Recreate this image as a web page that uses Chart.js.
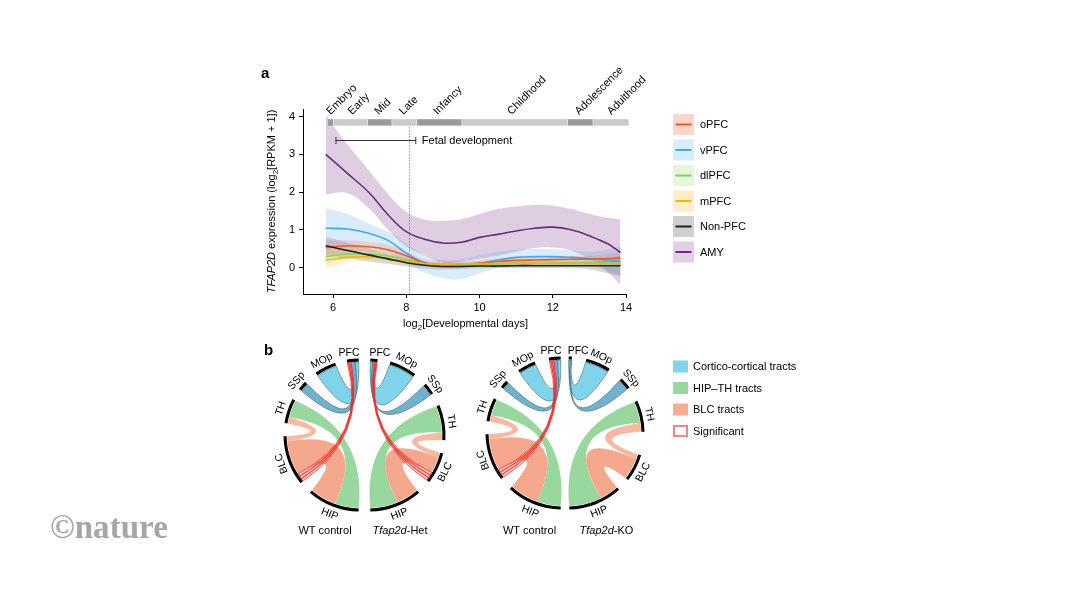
<!DOCTYPE html>
<html>
<head>
<meta charset="utf-8">
<script src="https://cdn.jsdelivr.net/npm/chart.js@4.4.0/dist/chart.umd.min.js"></script>
<style>
body { margin: 0; background: #fff; }
#wrap { position: relative; width: 1066px; height: 600px; overflow: hidden; background: #fff; }
canvas { position: absolute; }
</style>
</head>
<body>
<div id="wrap">
  <canvas id="expr" width="1066" height="600" style="left:0;top:0"></canvas>
  <canvas id="wtA" width="200" height="200" style="left:260px;top:335px"></canvas>
  <canvas id="het" width="200" height="200" style="left:269px;top:335px"></canvas>
  <canvas id="wtB" width="200" height="200" style="left:462px;top:333px"></canvas>
  <canvas id="ko" width="200" height="200" style="left:468px;top:333px"></canvas>
</div>
<script>
var FAMILY = '"Liberation Sans", Arial, Helvetica, sans-serif';

// ---- panel a data ----
var days = [5.8, 6.4, 7.0, 7.5, 8.0, 8.5, 9.0, 9.5, 10.0, 10.5, 11.0, 11.5, 12.0, 12.5, 13.0, 13.5, 13.85];

var oPFC   = [0.53, 0.57, 0.55, 0.47, 0.31, 0.12, 0.07, 0.08, 0.12, 0.16, 0.19, 0.20, 0.21, 0.22, 0.22, 0.24, 0.25];
var oPFCHi = [0.72, 0.72, 0.68, 0.60, 0.42, 0.22, 0.16, 0.17, 0.20, 0.24, 0.27, 0.28, 0.29, 0.30, 0.31, 0.36, 0.42];
var oPFCLo = [0.33, 0.40, 0.42, 0.35, 0.20, 0.03, -0.02, -0.01, 0.04, 0.08, 0.11, 0.12, 0.13, 0.13, 0.12, 0.10, 0.06];

var vPFC   = [1.04, 1.02, 0.90, 0.72, 0.38, 0.13, 0.04, 0.04, 0.11, 0.20, 0.27, 0.29, 0.29, 0.27, 0.24, 0.20, 0.16];
var vPFCHi = [1.57, 1.42, 1.15, 0.95, 0.64, 0.32, 0.20, 0.22, 0.33, 0.42, 0.47, 0.49, 0.49, 0.45, 0.42, 0.48, 0.56];
var vPFCLo = [0.56, 0.56, 0.50, 0.40, 0.11, -0.13, -0.28, -0.30, -0.15, -0.02, 0.04, 0.07, 0.06, 0.04, 0.02, -0.08, -0.19];

var dlPFC   = [0.29, 0.36, 0.36, 0.31, 0.20, 0.10, 0.07, 0.07, 0.08, 0.10, 0.11, 0.12, 0.12, 0.13, 0.13, 0.12, 0.11];
var dlPFCHi = [0.48, 0.48, 0.47, 0.42, 0.30, 0.17, 0.13, 0.13, 0.14, 0.16, 0.17, 0.18, 0.18, 0.19, 0.20, 0.22, 0.25];
var dlPFCLo = [0.10, 0.24, 0.26, 0.20, 0.10, 0.03, 0.00, 0.01, 0.02, 0.04, 0.05, 0.06, 0.06, 0.06, 0.05, 0.02, -0.03];

var mPFC   = [0.20, 0.27, 0.28, 0.24, 0.16, 0.10, 0.09, 0.10, 0.10, 0.11, 0.11, 0.11, 0.11, 0.11, 0.11, 0.10, 0.10];
var mPFCHi = [0.38, 0.40, 0.38, 0.33, 0.24, 0.16, 0.15, 0.15, 0.15, 0.16, 0.16, 0.16, 0.16, 0.16, 0.17, 0.18, 0.20];
var mPFCLo = [-0.05, 0.14, 0.18, 0.15, 0.08, 0.04, 0.03, 0.04, 0.05, 0.06, 0.06, 0.06, 0.06, 0.06, 0.05, 0.02, -0.02];

var nonPFC   = [0.58, 0.45, 0.33, 0.23, 0.13, 0.06, 0.03, 0.03, 0.04, 0.04, 0.05, 0.05, 0.05, 0.05, 0.05, 0.05, 0.05];
var nonPFCHi = [0.82, 0.65, 0.50, 0.36, 0.24, 0.14, 0.10, 0.10, 0.10, 0.10, 0.11, 0.11, 0.11, 0.12, 0.14, 0.22, 0.32];
var nonPFCLo = [0.32, 0.25, 0.16, 0.10, 0.03, -0.03, -0.05, -0.04, -0.02, -0.01, -0.01, -0.01, -0.01, -0.02, -0.05, -0.15, -0.22];

var amy   = [3.00, 2.49, 1.97, 1.40, 0.95, 0.75, 0.65, 0.67, 0.80, 0.88, 0.97, 1.04, 1.07, 1.00, 0.84, 0.63, 0.40];
var amyHi = [4.05, 3.25, 2.55, 1.95, 1.48, 1.27, 1.24, 1.28, 1.42, 1.55, 1.62, 1.66, 1.64, 1.55, 1.42, 1.32, 1.28];
var amyLo = [1.94, 1.97, 1.55, 1.00, 0.56, 0.32, 0.13, 0.16, 0.24, 0.32, 0.42, 0.52, 0.53, 0.45, 0.22, -0.12, -0.46];

var xTicks = [6, 8, 10, 12, 14];
var yTicks = [0, 1, 2, 3, 4];

var stages = ['Embryo', 'Early', 'Mid', 'Late', 'Infancy', 'Childhood', 'Adolescence', 'Adulthood'];
var stageEdges = [5.86, 6.02, 6.94, 7.61, 8.28, 9.52, 12.40, 13.10, 14.07];
var stageLabelAt = [5.93, 6.52, 7.25, 7.92, 8.85, 10.87, 12.72, 13.60];
var fetalRange = [6.08, 8.26];
var birthDay = 8.07;

var regions = [
    { name: 'oPFC', line: '#f15a24', band: 'rgba(245,110,80,0.22)', swatch: '#fdd5ca', mean: oPFC, hi: oPFCHi, lo: oPFCLo, order: 4 },
    { name: 'vPFC', line: '#3fa9ef', band: 'rgba(80,170,240,0.22)', swatch: '#d8eefc', mean: vPFC, hi: vPFCHi, lo: vPFCLo, order: 5 },
    { name: 'dlPFC', line: '#86d35a', band: 'rgba(140,210,100,0.22)', swatch: '#e6f6dd', mean: dlPFC, hi: dlPFCHi, lo: dlPFCLo, order: 3 },
    { name: 'mPFC', line: '#f7b500', band: 'rgba(250,200,60,0.22)', swatch: '#fdeec9', mean: mPFC, hi: mPFCHi, lo: mPFCLo, order: 2 },
    { name: 'Non-PFC', line: '#1e1e1e', band: 'rgba(60,60,60,0.2)', swatch: '#d0d0d0', mean: nonPFC, hi: nonPFCHi, lo: nonPFCLo, order: 1 },
    { name: 'AMY', line: '#6a2c7e', band: 'rgba(128,60,140,0.25)', swatch: '#e3d0e6', mean: amy, hi: amyHi, lo: amyLo, order: 6 }
];

// ---- panel b data (arc extents in degrees, clockwise from 12 o'clock) ----
var wtA = [['PFC', -10, -1], ['MOp', -35.5, -19], ['SSp', -53, -46], ['TH', -81, -62], ['BLC', -129, -91], ['HIP', -179, -139]];
var wtARibbons = [
    ['TH', -76, -62, 'HIP', -179, -160, 'hipth'],
    ['BLC', -122, -95, 'HIP', -160, -139, 'blc'],
    ['TH', -81, -76, 'BLC', -95, -91, 'blcthin'],
    ['MOp', -35.5, -19, 'PFC', -4, -1, 'cc'],
    ['SSp', -53, -46, 'PFC', -7, -4, 'cc2'],
    ['PFC', -10, -7, 'BLC', -129, -122, 'sig']
];

var het = [['PFC', 1, 6.5], ['MOp', 16.3, 37.2], ['SSp', 48, 57], ['TH', 67, 94], ['BLC', 104, 128], ['HIP', 139, 179]];
var hetRibbons = [
    ['TH', 67, 88, 'HIP', 157, 179, 'hipth'],
    ['BLC', 108, 121, 'HIP', 139, 157, 'blc'],
    ['TH', 88, 94, 'BLC', 104, 108, 'blcthin'],
    ['MOp', 16.3, 37.2, 'PFC', 1, 2.8, 'cc'],
    ['SSp', 48, 57, 'PFC', 2.8, 4.3, 'cc2'],
    ['PFC', 4.3, 6.5, 'BLC', 121, 128, 'sig']
];

var wtB = [['PFC', -10, -1], ['MOp', -35, -21], ['SSp', -53, -47], ['TH', -81, -63], ['BLC', -127, -91], ['HIP', -179, -137]];
var wtBRibbons = [
    ['TH', -76, -63, 'HIP', -179, -160, 'hipth'],
    ['BLC', -120, -95, 'HIP', -160, -137, 'blc'],
    ['TH', -81, -76, 'BLC', -95, -91, 'blcthin'],
    ['MOp', -35, -21, 'PFC', -4, -1, 'cc'],
    ['SSp', -53, -47, 'PFC', -6.5, -4, 'cc2'],
    ['PFC', -10, -6.5, 'BLC', -127, -120, 'sig']
];

var ko = [['PFC', 0.5, 3], ['MOp', 14, 33], ['SSp', 44.5, 53.5], ['TH', 65, 89], ['BLC', 107, 128], ['HIP', 138, 179]];
var koRibbons = [
    ['TH', 65, 82, 'HIP', 153, 179, 'hipth'],
    ['BLC', 111, 128, 'HIP', 138, 153, 'blc'],
    ['TH', 82, 89, 'BLC', 107, 111, 'blcthin'],
    ['MOp', 14, 33, 'PFC', 0.5, 1.8, 'cc'],
    ['SSp', 44.5, 53.5, 'PFC', 1.8, 3, 'cc2']
];

var tractLegend = ['Cortico-cortical tracts', 'HIP\u2013TH tracts', 'BLC tracts', 'Significant'];

Chart.defaults.font.family = FAMILY;
Chart.defaults.font.size = 11;
Chart.defaults.color = '#000';

function fontFor(style, size) {
    var s = style === 's' ? Math.round(size * 0.72) : size;
    return (style === 'i' ? 'italic ' : '') + (style === 'b' ? 'bold ' : '') + s + 'px ' + FAMILY;
}

// draws pieces of text centred on x, with italic / subscript parts
function richText(ctx, parts, x, y, size) {
    var w = 0;
    parts.forEach(function (p) { ctx.font = fontFor(p[1], size); w += ctx.measureText(p[0]).width; });
    var cx = x - w / 2;
    ctx.textAlign = 'left';
    ctx.textBaseline = 'middle';
    parts.forEach(function (p) {
        ctx.font = fontFor(p[1], size);
        ctx.fillText(p[0], cx, p[1] === 's' ? y + size * 0.32 : y);
        cx += ctx.measureText(p[0]).width;
    });
}

function pts(arr) {
    return days.map(function (d, i) { return { x: d, y: arr[i] }; });
}

var datasets = [];
regions.forEach(function (r) {
    datasets.push({ data: pts(r.hi), fill: '+1', backgroundColor: r.band, borderWidth: 0, pointRadius: 0, tension: 0.4, order: 20 });
    datasets.push({ data: pts(r.lo), fill: false, borderWidth: 0, pointRadius: 0, tension: 0.4, order: 20 });
});
regions.forEach(function (r) {
    datasets.push({ label: r.name, data: pts(r.mean), fill: false, borderColor: r.line, borderWidth: 1.6, pointRadius: 0, tension: 0.4, order: r.order });
});

var decorPlugin = {
    id: 'decor',
    beforeDatasetsDraw: function (chart) {
        var ctx = chart.ctx, x = chart.scales.x, y = chart.scales.y;
        ctx.save();
        ctx.strokeStyle = '#9a9a9a';
        ctx.lineWidth = 1;
        ctx.setLineDash([1.5, 1.5]);
        ctx.beginPath();
        ctx.moveTo(Math.round(x.getPixelForValue(birthDay)) + 0.5, y.getPixelForValue(3.8));
        ctx.lineTo(Math.round(x.getPixelForValue(birthDay)) + 0.5, chart.chartArea.bottom);
        ctx.stroke();
        ctx.restore();
    },
    afterDraw: function (chart) {
        var ctx = chart.ctx, x = chart.scales.x, y = chart.scales.y;
        ctx.save();

        // stage bar
        var top = y.getPixelForValue(3.93), bot = y.getPixelForValue(3.76);
        for (var i = 0; i < stages.length; i++) {
            var x0 = x.getPixelForValue(stageEdges[i]), x1 = x.getPixelForValue(stageEdges[i + 1]);
            ctx.fillStyle = i % 2 === 0 ? '#9b9b9b' : '#cacaca';
            ctx.fillRect(x0, top, x1 - x0, bot - top);
            if (i > 0) { ctx.fillStyle = '#e4e4e4'; ctx.fillRect(x0 - 0.5, top, 1, bot - top); }
        }
        ctx.fillStyle = '#000';
        ctx.font = '11px ' + FAMILY;
        ctx.textAlign = 'left';
        ctx.textBaseline = 'alphabetic';
        stages.forEach(function (s, i) {
            ctx.save();
            ctx.translate(x.getPixelForValue(stageLabelAt[i]), top - 4);
            ctx.rotate(-Math.PI / 4);
            ctx.fillText(s, 0, 0);
            ctx.restore();
        });

        // fetal development bracket
        var fy = Math.round(y.getPixelForValue(3.38)) + 0.5;
        var fx0 = x.getPixelForValue(fetalRange[0]), fx1 = x.getPixelForValue(fetalRange[1]);
        ctx.strokeStyle = '#333';
        ctx.lineWidth = 1;
        ctx.beginPath();
        ctx.moveTo(fx0, fy); ctx.lineTo(fx1, fy);
        ctx.moveTo(fx0, fy - 3.5); ctx.lineTo(fx0, fy + 3.5);
        ctx.moveTo(fx1, fy - 3.5); ctx.lineTo(fx1, fy + 3.5);
        ctx.stroke();
        ctx.textBaseline = 'middle';
        ctx.fillText('Fetal development', fx1 + 6, fy);

        // axis titles
        richText(ctx, [['log', ''], ['2', 's'], ['[Developmental days]', '']], (chart.chartArea.left + chart.chartArea.right) / 2 + 1, 324, 11);
        ctx.save();
        ctx.translate(272, (chart.chartArea.top + chart.chartArea.bottom) / 2);
        ctx.rotate(-Math.PI / 2);
        richText(ctx, [['TFAP2D', 'i'], [' expression (log', ''], ['2', 's'], ['[RPKM + 1])', '']], 0, 0, 11);
        ctx.restore();

        // panel a legend
        ctx.font = '11px ' + FAMILY;
        ctx.textAlign = 'left';
        ctx.textBaseline = 'middle';
        regions.forEach(function (r, i) {
            var cy = 124.5 + i * 25.5;
            ctx.fillStyle = r.swatch;
            ctx.fillRect(673, cy - 10.5, 21, 21);
            ctx.strokeStyle = r.line;
            ctx.lineWidth = 2;
            ctx.beginPath(); ctx.moveTo(675.5, cy); ctx.lineTo(691.5, cy); ctx.stroke();
            ctx.fillStyle = '#000';
            ctx.fillText(r.name, 700, cy + 0.5);
        });

        // panel b legend
        var sw = ['#7fd3ea', '#98d89e', '#f7ad93', null];
        tractLegend.forEach(function (t, i) {
            var cy = 366.5 + i * 21.5;
            if (sw[i]) {
                ctx.fillStyle = sw[i];
                ctx.fillRect(673, cy - 6, 15, 12);
            } else {
                ctx.strokeStyle = '#f08585';
                ctx.lineWidth = 2;
                ctx.strokeRect(674, cy - 5, 13, 10);
            }
            ctx.fillStyle = '#000';
            ctx.fillText(t, 693, cy + 0.5);
        });

        // condition labels
        richText(ctx, [['WT control', '']], 325, 531, 11);
        richText(ctx, [['Tfap2d', 'i'], ['-Het', '']], 400, 531, 11);
        richText(ctx, [['WT control', '']], 529.5, 531, 11);
        richText(ctx, [['Tfap2d', 'i'], ['-KO', '']], 606.5, 531, 11);

        // panel letters
        ctx.fillStyle = '#000';
        ctx.textAlign = 'left';
        ctx.textBaseline = 'alphabetic';
        ctx.font = 'bold 15px ' + FAMILY;
        ctx.fillText('a', 261, 78);
        ctx.fillText('b', 264, 355);

        // watermark
        ctx.font = 'bold 30px "Liberation Serif", serif';
        var wm = ctx.measureText('\u00a9nature').width;
        ctx.font = 'bold ' + (30 * 118 / wm).toFixed(1) + 'px "Liberation Serif", serif';
        ctx.fillStyle = '#a6a6a6';
        ctx.fillText('\u00a9nature', 50, 538);
        ctx.restore();
    }
};

new Chart(document.getElementById('expr'), {
    type: 'line',
    data: { datasets: datasets },
    options: {
        responsive: false,
        animation: false,
        events: [],
        layout: { padding: { left: 273, right: 440, top: 109, bottom: 276 } },
        plugins: { legend: { display: false }, tooltip: { enabled: false } },
        scales: {
            x: {
                type: 'linear', min: 5.18, max: 14,
                afterBuildTicks: function (s) { s.ticks = xTicks.map(function (v) { return { value: v }; }); },
                afterFit: function (s) { s.height = 30; },
                grid: { drawOnChartArea: false, drawTicks: true, tickLength: 4, color: '#000' },
                border: { display: true, color: '#000', width: 1 },
                ticks: { color: '#000', padding: 3, maxRotation: 0, font: { size: 11 } }
            },
            y: {
                type: 'linear', min: -0.7, max: 4.2,
                afterBuildTicks: function (s) { s.ticks = yTicks.map(function (v) { return { value: v }; }); },
                afterFit: function (s) { s.width = 30; },
                grid: { drawOnChartArea: false, drawTicks: true, tickLength: 4, color: '#000' },
                border: { display: true, color: '#000', width: 1 },
                ticks: { color: '#000', padding: 4, font: { size: 11 } }
            }
        }
    },
    plugins: [decorPlugin]
});

// ---- chord halves ----
function ringData(segs) {
    var list = segs.map(function (s) {
        var a = s[1] < 0 ? s[1] + 360 : s[1], b = s[2] < 0 ? s[2] + 360 : s[2];
        return [a, b, s[0]];
    }).sort(function (p, q) { return p[0] - q[0]; });
    var data = [], colors = [], names = [], pos = 0;
    list.forEach(function (s) {
        if (s[0] > pos) { data.push(s[0] - pos); colors.push('rgba(0,0,0,0)'); names.push(''); }
        data.push(s[1] - s[0]); colors.push('#000'); names.push(s[2]);
        pos = s[1];
    });
    if (pos < 360) { data.push(360 - pos); colors.push('rgba(0,0,0,0)'); names.push(''); }
    return { data: data, colors: colors, names: names };
}

var ribbonStyle = {
    hipth: { rank: 0, fill: '#98d89e' },
    blc: { rank: 1, fill: '#f6a88f' },
    blcthin: { rank: 2, fill: 'rgba(246,160,130,0.75)' },
    cc: { rank: 3, fill: '#7fd3ea', stroke: 'rgba(40,60,70,0.75)' },
    cc2: { rank: 3, fill: '#6db3cf', stroke: 'rgba(40,60,70,0.75)' },
    sig: { rank: 4, fill: 'rgba(245,85,75,0.35)', stroke: 'rgba(235,45,40,0.9)' }
};

// one edge of a link: the dip below its chord grows with the chord length,
// but never much past half the way to the centre
function linkEdge(ctx, cx, cy, r, from, to) {
    var x0 = cx + r * Math.cos(from), y0 = cy + r * Math.sin(from);
    var x2 = cx + r * Math.cos(to), y2 = cy + r * Math.sin(to);
    var mx = (x0 + x2) / 2, my = (y0 + y2) / 2;
    var chord = Math.hypot(x2 - x0, y2 - y0);
    var dm = Math.hypot(mx - cx, my - cy);
    var ux, uy;
    if (dm > 1e-6) { ux = (mx - cx) / dm; uy = (my - cy) / dm; }
    else { var bis = (from + to) / 2; ux = Math.cos(bis); uy = Math.sin(bis); }
    var h = Math.min(0.24 * r + 0.434 * chord, 0.6 * dm);
    ctx.quadraticCurveTo(mx - 2 * h * ux, my - 2 * h * uy, x2, y2);
}

function ribbonPath(ctx, cx, cy, r, a0, a1, b0, b1) {
    ctx.beginPath();
    ctx.arc(cx, cy, r, a0, a1);
    linkEdge(ctx, cx, cy, r, a1, b0);
    ctx.arc(cx, cy, r, b0, b1);
    linkEdge(ctx, cx, cy, r, b1, a0);
    ctx.closePath();
}

var chordPlugin = {
    id: 'chord',
    afterDatasetsDraw: function (chart, args, opts) {
        var ctx = chart.ctx;
        var meta = chart.getDatasetMeta(0);
        var names = chart.data.labels;
        var segs = opts.segs;
        var arcs = {};
        names.forEach(function (n, i) { if (n) arcs[n] = meta.data[i]; });
        var extent = {};
        segs.forEach(function (s) { extent[s[0]] = [s[1], s[2]]; });
        function angleOf(name, deg) {
            var arc = arcs[name], e = extent[name];
            var f = (deg - e[0]) / (e[1] - e[0]);
            return arc.startAngle + f * (arc.endAngle - arc.startAngle);
        }
        var any = meta.data[0];
        var cx = any.x, cy = any.y, r = any.innerRadius - 0.5;

        ctx.save();
        opts.ribbons.slice().sort(function (p, q) { return ribbonStyle[p[6]].rank - ribbonStyle[q[6]].rank; }).forEach(function (rb) {
            var st = ribbonStyle[rb[6]];
            var a0 = angleOf(rb[0], rb[1]), a1 = angleOf(rb[0], rb[2]);
            var b0 = angleOf(rb[3], rb[4]), b1 = angleOf(rb[3], rb[5]);
            var strands = rb[6] === 'sig' ? 3 : 1;
            for (var k = 0; k < strands; k++) {
                var sa0 = a0 + (a1 - a0) * k / strands, sa1 = a0 + (a1 - a0) * (k + 1) / strands;
                var sb0 = b0 + (b1 - b0) * (strands - k - 1) / strands, sb1 = b0 + (b1 - b0) * (strands - k) / strands;
                ribbonPath(ctx, cx, cy, r, sa0, sa1, sb0, sb1);
                ctx.fillStyle = st.fill;
                ctx.fill();
                if (st.stroke) {
                    ctx.strokeStyle = st.stroke;
                    ctx.lineWidth = rb[6] === 'sig' ? 0.8 : 0.6;
                    ctx.stroke();
                }
            }
        });

        // segment names along the circle
        ctx.fillStyle = '#000';
        ctx.font = '10.5px ' + FAMILY;
        segs.forEach(function (s) {
            var arc = arcs[s[0]];
            var mid = (arc.startAngle + arc.endAngle) / 2;
            var deg = mid * 180 / Math.PI + 90;
            if (deg > 180) deg -= 360;
            ctx.save();
            if (Math.abs(deg) < 15) {
                // top labels sit against the central gap
                var edge = deg < 0 ? arc.endAngle : arc.startAngle;
                var ro = arc.outerRadius + 3;
                ctx.translate(cx + ro * Math.cos(edge), cy + ro * Math.sin(edge));
                ctx.textAlign = deg < 0 ? 'right' : 'left';
                ctx.textBaseline = 'alphabetic';
                ctx.fillText(s[0], deg < 0 ? 1 : -1, 0);
                ctx.restore();
                return;
            }
            var rot = deg, flip = false;
            if (deg < -120) { rot = deg + 180; flip = true; }
            if (deg > 100) { rot = deg - 180; flip = true; }
            var rr = arc.outerRadius + (flip ? 3 : 4);
            ctx.translate(cx + rr * Math.cos(mid), cy + rr * Math.sin(mid));
            ctx.rotate(rot * Math.PI / 180);
            ctx.textAlign = 'center';
            ctx.textBaseline = flip ? 'top' : 'alphabetic';
            ctx.fillText(s[0], 0, 0);
            ctx.restore();
        });
        ctx.restore();
    }
};

function makeHalf(id, segs, ribbons) {
    var ring = ringData(segs);
    new Chart(document.getElementById(id), {
        type: 'doughnut',
        data: {
            labels: ring.names,
            datasets: [{ data: ring.data, backgroundColor: ring.colors, borderWidth: 0 }]
        },
        options: {
            responsive: false,
            animation: false,
            events: [],
            radius: 76.5,
            cutout: '96%',
            layout: { padding: 0 },
            plugins: {
                legend: { display: false },
                tooltip: { enabled: false },
                chord: { segs: segs, ribbons: ribbons }
            }
        },
        plugins: [chordPlugin]
    });
}

makeHalf('wtA', wtA, wtARibbons);
makeHalf('het', het, hetRibbons);
makeHalf('wtB', wtB, wtBRibbons);
makeHalf('ko', ko, koRibbons);
</script>
</body>
</html>
